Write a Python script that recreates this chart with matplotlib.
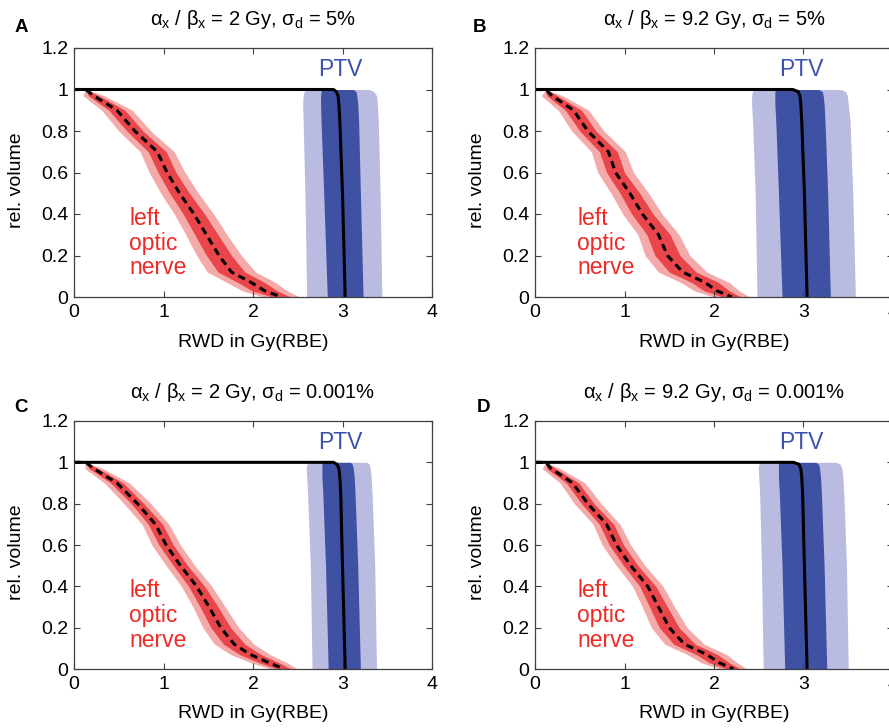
import numpy as np
import matplotlib
matplotlib.use('Agg')
import matplotlib.pyplot as plt

plt.rcParams['font.family'] = ['Liberation Sans', 'DejaVu Sans']
plt.rcParams['mathtext.fontset'] = 'custom'
plt.rcParams['mathtext.rm'] = 'Liberation Sans'
plt.rcParams['mathtext.it'] = 'Liberation Sans'
plt.rcParams['mathtext.bf'] = 'Liberation Sans:bold'

# titles and panel letters
panel_letters = ['A', 'B', 'C', 'D']
alpha_beta = ['2', '9.2', '2', '9.2']
sigma_d = ['5%', '5%', '0.001%', '0.001%']

# left optic nerve: relative volume levels and nominal dose (Gy(RBE)) per panel
on_vol = [1.0, 0.97, 0.9, 0.8, 0.7, 0.6, 0.5, 0.4, 0.3, 0.2, 0.12, 0.07, 0.03, 0.0]
on_dose_A = [0.13, 0.22, 0.48, 0.68, 0.93, 1.04, 1.18, 1.34, 1.48, 1.62, 1.76, 1.98, 2.13, 2.32]
on_dose_B = [0.12, 0.19, 0.43, 0.59, 0.82, 0.90, 1.06, 1.20, 1.38, 1.48, 1.65, 1.90, 2.03, 2.20]
on_dose_C = [0.13, 0.22, 0.48, 0.71, 0.91, 1.03, 1.19, 1.37, 1.51, 1.64, 1.79, 1.97, 2.18, 2.35]
on_dose_D = [0.12, 0.18, 0.42, 0.59, 0.80, 0.91, 1.07, 1.26, 1.38, 1.50, 1.67, 1.92, 2.06, 2.22]
# half widths of the uncertainty bands (inner / outer)
on_inner_5 = [0.0, 0.06, 0.09, 0.09, 0.10, 0.10, 0.11, 0.12, 0.13, 0.14, 0.15, 0.15, 0.14, 0.10]
on_outer_5 = [0.0, 0.12, 0.17, 0.18, 0.19, 0.20, 0.21, 0.22, 0.23, 0.25, 0.27, 0.27, 0.25, 0.20]
on_inner_0 = [0.0, 0.05, 0.07, 0.07, 0.08, 0.08, 0.08, 0.09, 0.10, 0.11, 0.12, 0.12, 0.11, 0.08]
on_outer_0 = [0.0, 0.10, 0.14, 0.15, 0.15, 0.16, 0.16, 0.17, 0.18, 0.20, 0.22, 0.22, 0.20, 0.15]

# PTV: volume levels, nominal dose and band edges per panel
ptv_vol = [1.0, 0.99, 0.97, 0.93, 0.85, 0.5, 0.0]
ptv_nom_A = [2.90, 2.93, 2.95, 2.96, 2.97, 3.00, 3.03]
ptv_lo2_A = [2.60, 2.57, 2.56, 2.555, 2.56, 2.58, 2.60]
ptv_lo1_A = [2.77, 2.76, 2.755, 2.755, 2.76, 2.79, 2.83]
ptv_hi1_A = [3.12, 3.15, 3.16, 3.17, 3.18, 3.20, 3.23]
ptv_hi2_A = [3.30, 3.35, 3.38, 3.39, 3.40, 3.42, 3.44]

ptv_nom_B = [2.88, 2.94, 2.96, 2.97, 2.98, 3.01, 3.04]
ptv_lo2_B = [2.45, 2.43, 2.42, 2.42, 2.43, 2.46, 2.48]
ptv_lo1_B = [2.69, 2.68, 2.68, 2.68, 2.69, 2.72, 2.76]
ptv_hi1_B = [3.17, 3.21, 3.22, 3.23, 3.24, 3.27, 3.30]
ptv_hi2_B = [3.42, 3.47, 3.49, 3.50, 3.52, 3.55, 3.58]

ptv_nom_C = [2.90, 2.94, 2.96, 2.97, 2.98, 3.00, 3.03]
ptv_lo2_C = [2.62, 2.60, 2.595, 2.60, 2.61, 2.64, 2.66]
ptv_lo1_C = [2.78, 2.77, 2.77, 2.77, 2.78, 2.81, 2.84]
ptv_hi1_C = [3.09, 3.11, 3.12, 3.13, 3.14, 3.17, 3.20]
ptv_hi2_C = [3.27, 3.30, 3.31, 3.32, 3.33, 3.36, 3.38]

ptv_nom_D = [2.89, 2.95, 2.97, 2.98, 2.99, 3.01, 3.04]
ptv_lo2_D = [2.52, 2.50, 2.495, 2.50, 2.51, 2.53, 2.55]
ptv_lo1_D = [2.73, 2.72, 2.72, 2.72, 2.73, 2.76, 2.79]
ptv_hi1_D = [3.14, 3.17, 3.18, 3.19, 3.20, 3.23, 3.26]
ptv_hi2_D = [3.37, 3.41, 3.43, 3.44, 3.45, 3.48, 3.50]

xticks = [0, 1, 2, 3, 4]
yticks = [0, 0.2, 0.4, 0.6, 0.8, 1.0, 1.2]
ytick_labels = ['0', '0.2', '0.4', '0.6', '0.8', '1', '1.2']

on_doses = [on_dose_A, on_dose_B, on_dose_C, on_dose_D]
on_inner = [on_inner_5, on_inner_5, on_inner_0, on_inner_0]
on_outer = [on_outer_5, on_outer_5, on_outer_0, on_outer_0]
ptv_nom = [ptv_nom_A, ptv_nom_B, ptv_nom_C, ptv_nom_D]
ptv_lo2 = [ptv_lo2_A, ptv_lo2_B, ptv_lo2_C, ptv_lo2_D]
ptv_lo1 = [ptv_lo1_A, ptv_lo1_B, ptv_lo1_C, ptv_lo1_D]
ptv_hi1 = [ptv_hi1_A, ptv_hi1_B, ptv_hi1_C, ptv_hi1_D]
ptv_hi2 = [ptv_hi2_A, ptv_hi2_B, ptv_hi2_C, ptv_hi2_D]

red_dark = '#E8464B'
red_light = '#F5AAAA'
blue_dark = '#3F51A3'
blue_light = '#B9BBE0'

W, H = 889, 728
fig = plt.figure(figsize=(W / 100, H / 100), dpi=100)

# axes boxes in pixels: left, top, right, bottom
boxes = [(74, 48, 432, 297), (535, 48, 893, 297),
         (74, 421, 432, 669), (535, 421, 893, 669)]
text_x = [0.62, 0.47, 0.62, 0.47]

for i in range(4):
    l, t, r, b = boxes[i]
    ax = fig.add_axes([l / W, 1 - b / H, (r - l) / W, (b - t) / H])
    v = np.array(on_vol)
    d = np.array(on_doses[i])
    ax.fill_betweenx(v, d - np.array(on_outer[i]), d + np.array(on_outer[i]),
                     color=red_light, lw=0)
    ax.fill_betweenx(v, d - np.array(on_inner[i]), d + np.array(on_inner[i]),
                     color=red_dark, lw=0)
    ax.plot(np.r_[0, d], np.r_[1, v], color='black', lw=2.2, dashes=(2.4, 1.6))

    ax.fill_betweenx(ptv_vol, ptv_lo2[i], ptv_hi2[i], color=blue_light, lw=0)
    ax.fill_betweenx(ptv_vol, ptv_lo1[i], ptv_hi1[i], color=blue_dark, lw=0)
    ax.plot(np.r_[0, ptv_nom[i]], np.r_[1, ptv_vol], color='black', lw=2.2)

    ax.text(2.98, 1.095, 'PTV', color='#3D50B0', fontsize=16.5,
            ha='center', va='center')
    ax.text(text_x[i], 0.26, 'left\noptic\nnerve', color='#EE2A24', fontsize=16.5,
            ha='left', va='center', linespacing=1.1)

    ax.set_xlim(0, 4)
    ax.set_ylim(0, 1.2)
    ax.set_xticks(xticks)
    ax.set_xticklabels([str(x) for x in xticks])
    ax.set_yticks(yticks)
    ax.set_yticklabels(ytick_labels)
    ax.tick_params(direction='in', top=True, right=True, length=4,
                   width=0.8, colors='0.25', labelcolor='black', labelsize=14)
    ax.tick_params(axis='x', pad=5)
    ax.tick_params(axis='y', pad=4)
    for s in ax.spines.values():
        s.set_color('0.25')
        s.set_linewidth(0.9)
    ax.set_xlabel('RWD in Gy(RBE)', fontsize=14)
    ax.set_ylabel('rel. volume', fontsize=14)
    ax.xaxis.set_label_coords(0.5, -0.147)
    ax.yaxis.set_label_coords(-0.137, 0.47)

    title = (r'$\alpha_\mathrm{x}$ / $\beta_\mathrm{x}$ = ' + alpha_beta[i]
             + r' Gy, $\sigma_\mathrm{d}$ = ' + sigma_d[i])
    ax.text(0.5, 1 + 23 / (b - t), title, transform=ax.transAxes,
            ha='center', va='baseline', fontsize=14.5)

letter_pos = [(21, 27), (480, 27), (21, 407), (483, 407)]
for i in range(4):
    fig.text(letter_pos[i][0] / W, 1 - letter_pos[i][1] / H, panel_letters[i],
             fontsize=13.5, fontweight='bold', ha='center', va='center')

fig.savefig('out.png', dpi=100)
